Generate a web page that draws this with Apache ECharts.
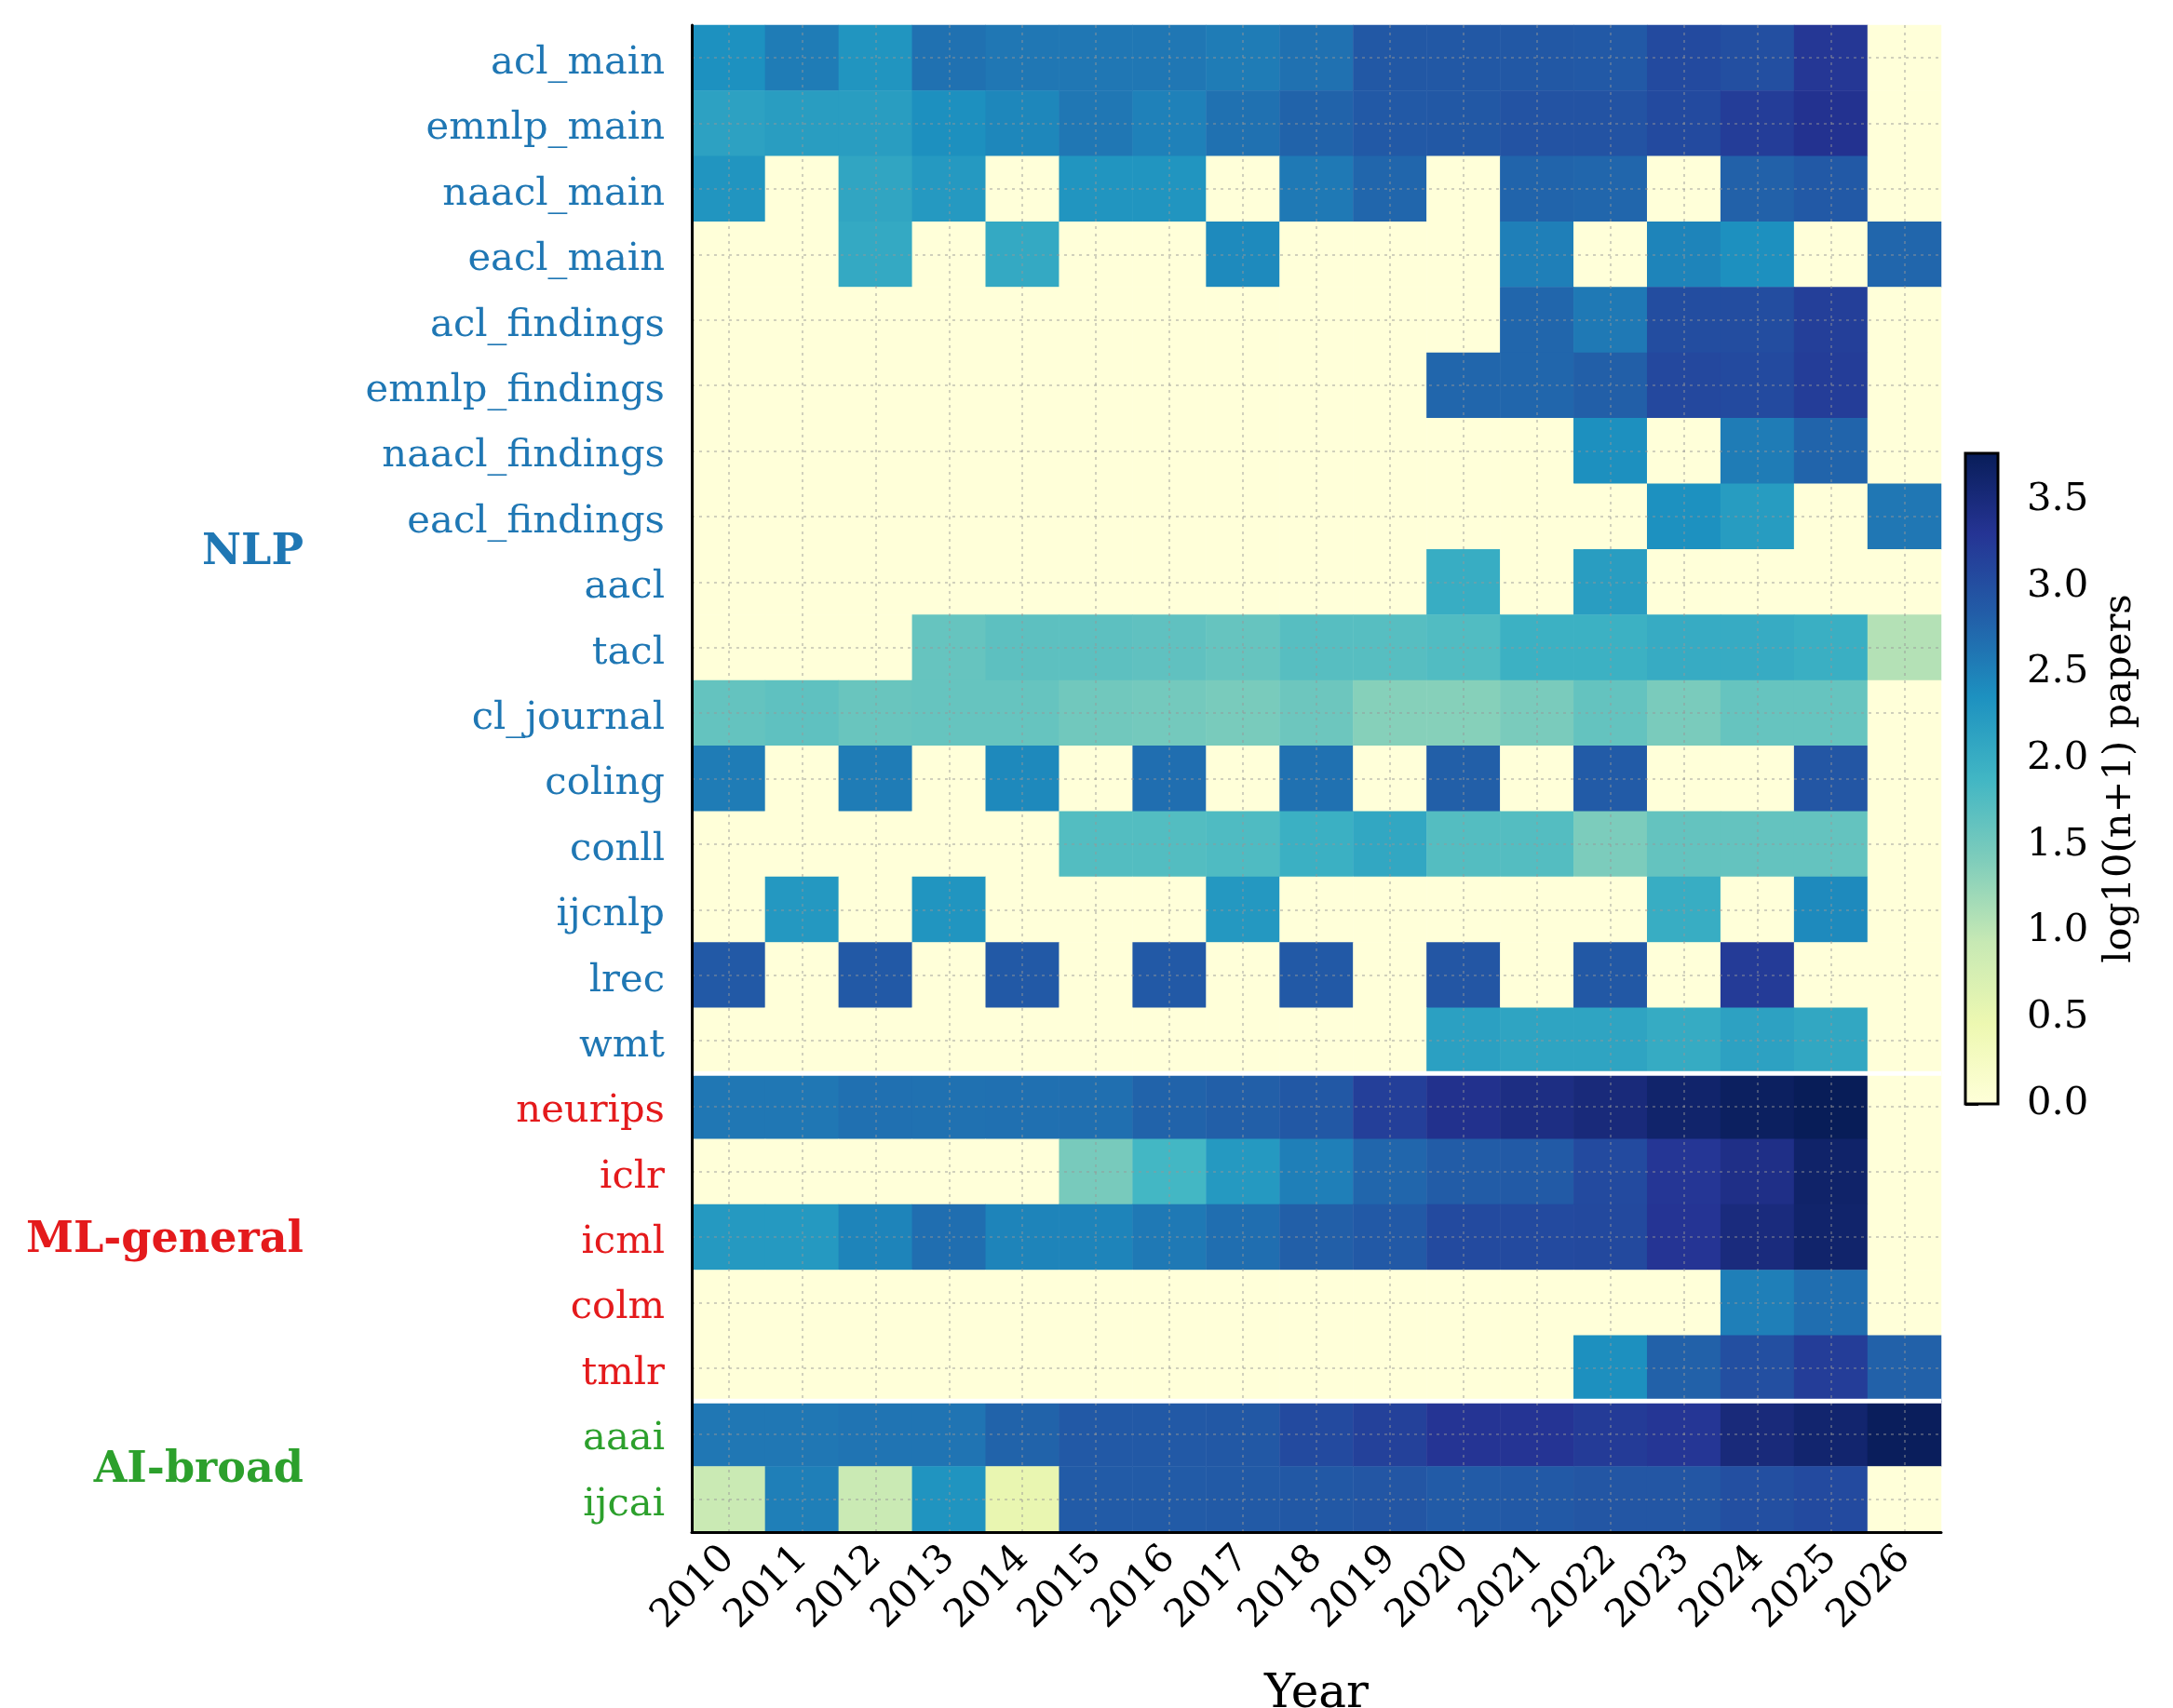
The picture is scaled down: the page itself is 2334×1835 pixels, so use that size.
<!DOCTYPE html>
<html>
<head>
<meta charset="utf-8">
<script src="https://cdn.jsdelivr.net/npm/echarts@6/dist/echarts.min.js"></script>
<style>
html,body{margin:0;padding:0;background:#fff;}
#c{width:2334px;height:1835px;}
</style>
</head>
<body>
<div id="c"></div>
<script>
// ---------------- data ----------------
const years = ['2010','2011','2012','2013','2014','2015','2016','2017','2018','2019','2020','2021','2022','2023','2024','2025','2026'];
const venues = ['acl_main','emnlp_main','naacl_main','eacl_main','acl_findings','emnlp_findings','naacl_findings','eacl_findings','aacl','tacl','cl_journal','coling','conll','ijcnlp','lrec','wmt','neurips','iclr','icml','colm','tmlr','aaai','ijcai'];
const groupNames = ['NLP','ML-general','AI-broad'];
const groupColors = ['#1f77b4','#e41a1c','#2ca02c'];
const nlpVenues = ['acl_main','emnlp_main','naacl_main','eacl_main','acl_findings','emnlp_findings','naacl_findings','eacl_findings','aacl','tacl','cl_journal','coling','conll','ijcnlp','lrec','wmt'];
const mlVenues = ['neurips','iclr','icml','colm','tmlr'];
const aiVenues = ['aaai','ijcai'];
const colorbarTicks = [0,0.5,1,1.5,2,2.5,3,3.5];

// log10(n+1) papers, 2010..2026
const acl_main       = [2.36,2.55,2.30,2.65,2.60,2.60,2.60,2.55,2.65,2.90,2.90,2.90,2.88,3.05,3.00,3.27,0];
const emnlp_main     = [2.15,2.20,2.20,2.37,2.45,2.60,2.50,2.65,2.78,2.88,2.90,2.95,2.95,3.05,3.20,3.33,0];
const naacl_main     = [2.30,0,2.10,2.25,0,2.30,2.30,0,2.58,2.75,0,2.77,2.75,0,2.80,2.88,0];
const eacl_main      = [0,0,2.05,0,2.05,0,0,2.42,0,0,0,2.52,0,2.48,2.37,0,2.75];
const acl_findings   = [0,0,0,0,0,0,0,0,0,0,0,2.75,2.58,3.02,3.02,3.17,0];
const emnlp_findings = [0,0,0,0,0,0,0,0,0,0,2.75,2.75,2.82,3.07,3.05,3.20,0];
const naacl_findings = [0,0,0,0,0,0,0,0,0,0,0,0,2.37,0,2.55,2.77,0];
const eacl_findings  = [0,0,0,0,0,0,0,0,0,0,0,0,0,2.35,2.22,0,2.60];
const aacl           = [0,0,0,0,0,0,0,0,0,0,2.00,0,2.20,0,0,0,0];
const tacl           = [0,0,0,1.60,1.67,1.67,1.65,1.60,1.72,1.72,1.76,1.95,1.95,2.02,2.02,1.98,1.07];
const cl_journal     = [1.62,1.66,1.58,1.60,1.60,1.52,1.50,1.46,1.55,1.37,1.37,1.45,1.62,1.45,1.60,1.60,0];
const coling         = [2.55,0,2.55,0,2.43,0,2.68,0,2.65,0,2.82,0,2.86,0,0,2.92,0];
const conll          = [0,0,0,0,0,1.75,1.75,1.78,1.96,2.08,1.74,1.74,1.44,1.62,1.62,1.62,0];
const ijcnlp         = [0,2.27,0,2.30,0,0,0,2.27,0,0,0,0,0,2.00,0,2.42,0];
const lrec           = [2.88,0,2.88,0,2.88,0,2.88,0,2.88,0,2.92,0,2.90,0,3.22,0,0];
const wmt            = [0,0,0,0,0,0,0,0,0,0,2.17,2.12,2.12,2.03,2.15,2.08,0];
const neurips        = [2.60,2.60,2.66,2.65,2.66,2.67,2.78,2.82,2.90,3.18,3.35,3.43,3.50,3.62,3.71,3.77,0];
const iclr           = [0,0,0,0,0,1.47,1.87,2.25,2.52,2.75,2.85,2.87,3.05,3.28,3.40,3.64,0];
const icml           = [2.25,2.25,2.48,2.68,2.48,2.48,2.58,2.68,2.82,2.88,3.05,3.05,3.06,3.30,3.48,3.62,0];
const colm           = [0,0,0,0,0,0,0,0,0,0,0,0,0,0,2.52,2.68,0];
const tmlr           = [0,0,0,0,0,0,0,0,0,0,0,0,2.37,2.80,3.00,3.20,2.80];
const aaai           = [2.60,2.60,2.62,2.62,2.78,2.88,2.88,2.90,3.05,3.15,3.30,3.30,3.22,3.28,3.50,3.60,3.74];
const ijcai          = [0.90,2.52,0.90,2.32,0.52,2.86,2.86,2.87,2.90,2.92,2.86,2.88,2.92,2.92,3.00,3.05,0];

const rows = [acl_main,emnlp_main,naacl_main,eacl_main,acl_findings,emnlp_findings,naacl_findings,eacl_findings,aacl,tacl,cl_journal,coling,conll,ijcnlp,lrec,wmt,neurips,iclr,icml,colm,tmlr,aaai,ijcai];

// ---------------- chart ----------------
const FONT = "'DejaVu Serif', 'Liberation Serif', serif";
const TICK_FS = 41.7;
const ylgnbu = ['#ffffd9','#edf8b1','#c7e9b4','#7fcdbb','#41b6c4','#1d91c0','#225ea8','#253494','#081d58'];
const groups = [nlpVenues, mlVenues, aiVenues];
const groupOf = {};
groups.forEach((g, gi) => g.forEach(v => { groupOf[v] = gi; }));

const data = [];
rows.forEach((r, yi) => r.forEach((v, xi) => data.push([xi, yi, v])));
const vmax = Math.max.apply(null, data.map(d => d[2]));

const GRID = {left: 743, top: 27, width: 1342, height: 1619};
const CB = {left: 2111, top: 487, width: 35, height: 699};

const chart = echarts.init(document.getElementById('c'), null, {renderer: 'canvas'});

const gridLine = {show: true, alignWithLabel: true, lineStyle: {type: [3, 5], color: 'rgba(150,150,150,0.45)', width: 2}};
const axisLineStyle = {color: '#000', width: 3};

const richStyles = {};
groupColors.forEach((c, i) => {
  richStyles['g' + i] = {color: c, fontFamily: FONT, fontSize: TICK_FS, padding: [12, 0, 0, 0]};
});

const option = {
  animation: false,
  backgroundColor: '#ffffff',
  grid: [
    {left: GRID.left, top: GRID.top, width: GRID.width, height: GRID.height, containLabel: false, outerBoundsMode: 'none'},
    {left: CB.left, top: CB.top, width: CB.width, height: CB.height, containLabel: false, outerBoundsMode: 'none'}
  ],
  xAxis: [
    {
      type: 'category', data: years, gridIndex: 0, z: 10,
      name: 'Year', nameLocation: 'middle', nameGap: 150,
      nameTextStyle: {fontFamily: FONT, fontSize: 50, color: '#000'},
      axisLine: {lineStyle: axisLineStyle},
      axisTick: {alignWithLabel: true, length: 14, lineStyle: axisLineStyle},
      axisLabel: {rotate: 45, interval: 0, margin: 22, fontFamily: FONT, fontSize: TICK_FS, color: '#000'},
      splitLine: gridLine
    },
    {type: 'value', gridIndex: 1, show: false, min: 0, max: 1}
  ],
  yAxis: [
    {
      type: 'category', data: venues, inverse: true, gridIndex: 0, z: 10,
      axisLine: {lineStyle: axisLineStyle},
      axisTick: {alignWithLabel: true, length: 14, lineStyle: axisLineStyle},
      axisLabel: {
        interval: 0, margin: 29, fontFamily: FONT, fontSize: TICK_FS,
        formatter: function (v) { return '{g' + groupOf[v] + '|' + v + '}'; },
        rich: richStyles
      },
      splitLine: gridLine
    },
    {
      type: 'value', gridIndex: 1, position: 'right', min: 0, max: vmax,
      axisLine: {show: false}, splitLine: {show: false},
      axisTick: {show: true, length: 14, lineStyle: axisLineStyle, customValues: colorbarTicks},
      axisLabel: {customValues: colorbarTicks, margin: 31, fontFamily: FONT, fontSize: TICK_FS, color: '#000',
        formatter: function (v) { return v.toFixed(1); }}
    }
  ],
  visualMap: {show: false, min: 0, max: vmax, seriesIndex: 0, dimension: 2, inRange: {color: ylgnbu}},
  series: [{
    type: 'heatmap', xAxisIndex: 0, yAxisIndex: 0, data: data,
    itemStyle: {borderWidth: 0}, emphasis: {disabled: true}, progressive: 0
  }]
};
chart.setOption(option);

// -------- decorations computed from the axes --------
function py(i) { return chart.convertToPixel({xAxisIndex: 0, yAxisIndex: 0}, [0, i])[1]; }
const graphics = [];
let idx = 0;
const bounds = [];
groups.forEach(g => { bounds.push([idx, idx + g.length - 1]); idx += g.length; });
// white separators between groups
for (let k = 0; k < bounds.length - 1; k++) {
  const y = (py(bounds[k][1]) + py(bounds[k + 1][0])) / 2;
  graphics.push({type: 'line', z: 20, shape: {x1: GRID.left + 2, y1: y, x2: GRID.left + GRID.width, y2: y},
    style: {stroke: '#ffffff', lineWidth: 5}});
}
// group labels
bounds.forEach((b, k) => {
  const y = (py(b[0]) + py(b[1])) / 2;
  graphics.push({type: 'text', z: 20, x: 326, y: y + 4,
    style: {text: groupNames[k], fill: groupColors[k], font: "bold 46px " + FONT, textAlign: 'right', textVerticalAlign: 'middle'}});
});
// colorbar
const stops = ylgnbu.map((c, i) => ({offset: i / (ylgnbu.length - 1), color: c}));
graphics.push({type: 'rect', z: 5, shape: {x: CB.left, y: CB.top, width: CB.width, height: CB.height},
  style: {fill: new echarts.graphic.LinearGradient(0, 1, 0, 0, stops), stroke: '#000', lineWidth: 3}});
graphics.push({type: 'text', z: 20, x: 2277, y: CB.top + CB.height / 2, rotation: Math.PI / 2,
  style: {text: 'log10(n+1) papers', fill: '#000', font: "41.7px " + FONT, textAlign: 'center', textVerticalAlign: 'middle'}});
chart.setOption({graphic: graphics});
</script>
</body>
</html>
